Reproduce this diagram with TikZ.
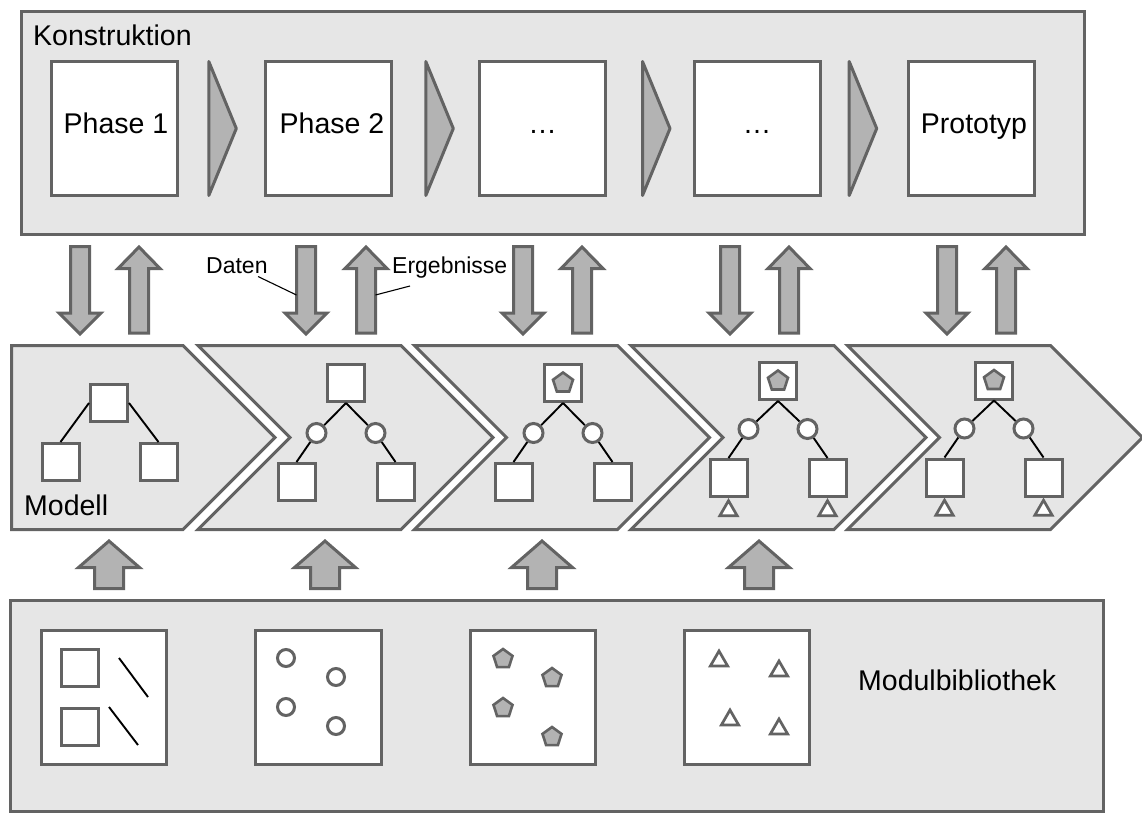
\documentclass[tikz,border=0pt]{standalone}
\usepackage{fontspec}
\setmainfont{Liberation Sans}
\usetikzlibrary{shapes.geometric}
\definecolor{edge}{HTML}{636363}
\definecolor{pale}{HTML}{E6E6E6}
\definecolor{mid}{HTML}{B3B3B3}

\tikzset{
  outline/.style={draw=edge, line width=3pt},
  panel/.style={outline, fill=pale},
  card/.style={outline, fill=white},
  bigarrow/.style={outline, fill=mid},
  phasebox/.style={card, rectangle, minimum width=126pt, minimum height=134pt, inner sep=0pt},
  libbox/.style={card, rectangle, minimum width=125.5pt, minimum height=134pt, inner sep=0pt},
  sq/.style={card, rectangle, minimum size=37pt, inner sep=0pt},
  knot/.style={card, circle, minimum size=19pt, inner sep=0pt},
  dot/.style={card, circle, minimum size=17pt, inner sep=0pt},
  penta/.style={draw=edge, line width=2.6pt, fill=mid, regular polygon, regular polygon sides=5, minimum size=21pt, inner sep=0pt},
  tri/.style={draw=edge, line width=2.7pt, fill=white, regular polygon, regular polygon sides=3, minimum size=20pt, inner sep=0pt},
  link/.style={black, line width=1.9pt},
  lead/.style={black, line width=1.1pt},
  big/.style={font=\fontsize{28.5}{34}\selectfont, inner sep=0pt},
  small/.style={font=\fontsize{23}{27}\selectfont, inner sep=0pt},
  pics/downflow/.style={code={
    \draw[bigarrow] (-9.5,0) -- (9.5,0) -- (9.5,66.5) -- (21,66.5) -- (0,87.5)
      -- (-21,66.5) -- (-9.5,66.5) -- cycle;}},
  pics/upflow/.style={code={
    \draw[bigarrow] (0,0) -- (21,21.5) -- (9.5,21.5) -- (9.5,86) -- (-9.5,86)
      -- (-9.5,21.5) -- (-21,21.5) -- cycle;}},
  pics/feed/.style={code={
    \draw[bigarrow] (0,0) -- (30.5,26.5) -- (14.5,26.5) -- (14.5,47.5) -- (-14.5,47.5)
      -- (-14.5,26.5) -- (-30.5,26.5) -- cycle;}},
}

\begin{document}
\begin{tikzpicture}[x=1pt, y=-1pt]
\fill[white] (0,0) rectangle (1142,814);
\useasboundingbox (0,0) rectangle (1142,814);

% ---------- Konstruktion ----------
\draw[panel] (21.5,11.5) rectangle (1084.5,234.5);
\node[big, anchor=base west] (konstr) at (33,45) {Konstruktion};

\node[phasebox] (p1) at (114.5,128.5) {};
\node[phasebox] (p2) at (328.5,128.5) {};
\node[phasebox] (p3) at (542.5,128.5) {};
\node[phasebox] (p4) at (757,128.5) {};
\node[phasebox] (p5) at (971,128.5) {};
\node[big, anchor=base] (t1) at (116,133) {Phase 1};
\node[big, anchor=base] (t2) at (332,133) {Phase 2};
\node[big, anchor=base] (t3) at (542.5,133) {…};
\node[big, anchor=base] (t4) at (757,133) {…};
\node[big, anchor=base] (t5) at (974,133) {Prototyp};

\foreach \x in {208.8, 425.8, 642.5, 849.2} {
  \draw[bigarrow, line join=round] (\x,61.5) -- (\x+27.5,128.5) -- (\x,195.5) -- cycle;
}

% ---------- exchange between Konstruktion and Modell ----------
\foreach \x in {80, 306, 523, 730, 947} { \pic at (\x,246.5) {downflow}; }
\foreach \x in {139, 366, 582, 789, 1006} { \pic at (\x,247) {upflow}; }

\node[small, anchor=base west] (daten) at (206,273) {Daten};
\node[small, anchor=base west] (ergeb) at (392,273) {Ergebnisse};
\coordinate (daten-a) at (258,276.5);
\coordinate (daten-b) at (296.5,295);
\coordinate (ergeb-a) at (410,286);
\coordinate (ergeb-b) at (375.5,295);
\draw[lead] (daten-a) -- (daten-b);
\draw[lead] (ergeb-a) -- (ergeb-b);

% ---------- Modell (chevron stages) ----------
\draw[panel] (11.5,345.5) -- (183,345.5) -- (275,437.5) -- (183,529.5) -- (11.5,529.5) -- cycle;
\foreach \L in {198, 414.5, 631, 847.5} {
  \draw[panel] (\L,345.5) -- ++(203,0) -- ++(92,92) -- ++(-92,92) -- ++(-203,0)
    -- ++(92,-92) -- cycle;
}
\node[big, anchor=base west] (modell) at (24,515) {Modell};

% stage 1: plain tree
\node[sq] (m1-t) at (109,403) {};
\node[sq] (m1-l) at (60.5,462) {};
\node[sq] (m1-r) at (158.5,462) {};
\draw[link] (m1-t.west) -- (m1-l.north);
\draw[link] (m1-t.east) -- (m1-r.north);

% stages 2 to 5: trees with joints
\foreach \i/\cx/\ty/\cy/\by in {2/346/383/433/482, 3/563/383/433/482,
                                4/778/381/429/478, 5/994/380.5/428.5/477.5} {
  \node[sq] (m\i-t) at (\cx,\ty) {};
  \node[knot] (m\i-a) at (\cx-29.5,\cy) {};
  \node[knot] (m\i-b) at (\cx+29.5,\cy) {};
  \node[sq] (m\i-l) at (\cx-49.5,\by) {};
  \node[sq] (m\i-r) at (\cx+49.5,\by) {};
  \draw[link] (m\i-t.south) -- (m\i-a);
  \draw[link] (m\i-t.south) -- (m\i-b);
  \draw[link] (m\i-a) -- (m\i-l.north);
  \draw[link] (m\i-b) -- (m\i-r.north);
}
\foreach \i in {3,4,5} { \node[penta] (m\i-p) at (m\i-t) {}; }
\foreach \i in {4,5} {
  \node[tri, anchor=corner 1] (m\i-u) at (m\i-l.south) {};
  \node[tri, anchor=corner 1] (m\i-v) at (m\i-r.south) {};
}

% ---------- feed from the library ----------
\foreach \x in {109, 325, 542, 759} { \pic at (\x,541) {feed}; }

% ---------- Modulbibliothek ----------
\draw[panel] (10.5,600.5) rectangle (1103.5,811.5);
\node[big, anchor=base west] (lib) at (858,690) {Modulbibliothek};

\node[libbox] (b1) at (104,697.5) {};
\node[libbox] (b2) at (318.5,697.5) {};
\node[libbox] (b3) at (533,697.5) {};
\node[libbox] (b4) at (747,697.5) {};

% squares and edges
\node[sq] (s1) at (80,668) {};
\node[sq] (s2) at (80,726.5) {};
\draw[link] (119,658) -- (148,697);
\draw[link] (109,707) -- (138,745);

% joints
\node[dot] (c1) at (286,658) {};
\node[dot] (c2) at (336,677) {};
\node[dot] (c3) at (286,707) {};
\node[dot] (c4) at (336,726) {};

% pentagons
\node[penta, minimum size=20pt] (q1) at (503,659) {};
\node[penta, minimum size=20pt] (q2) at (552,678) {};
\node[penta, minimum size=20pt] (q3) at (503,708) {};
\node[penta, minimum size=20pt] (q4) at (552,737) {};

% triangles
\node[tri] (r1) at (719,661) {};
\node[tri] (r2) at (779,671) {};
\node[tri] (r3) at (730,720) {};
\node[tri] (r4) at (779,729) {};
\end{tikzpicture}
\end{document}
